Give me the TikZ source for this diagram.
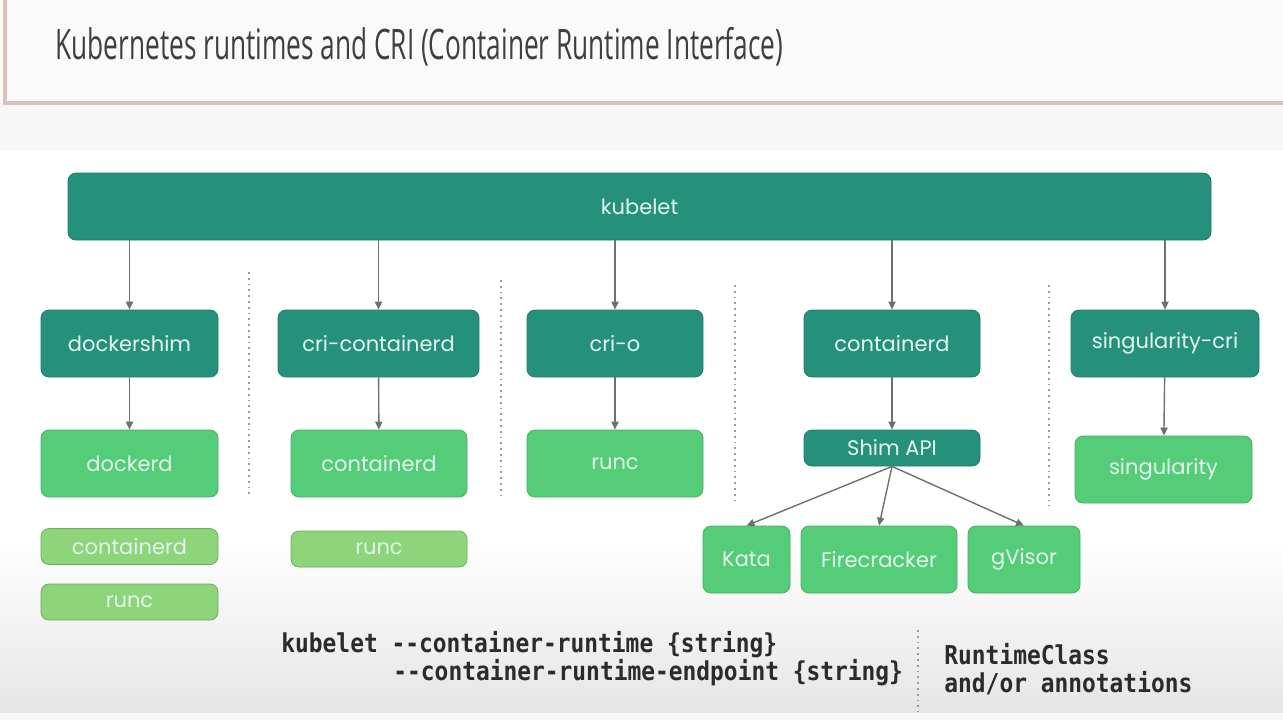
\documentclass[tikz,border=0pt]{standalone}
\usepackage{fontspec}
\setmainfont{Poppins}
\newfontfamily\titlefont[FakeStretch=0.625]{Open Sans}
\newfontfamily\cmdfont[FakeStretch=0.88]{DejaVu Sans Mono}
\usepackage{tikz}
\usetikzlibrary{arrows.meta}
\usepackage{xcolor}
\definecolor{kubeDark}{HTML}{26917A}
\definecolor{kubeGreen}{HTML}{55CC78}
\definecolor{kubePale}{HTML}{8DD47A}
\definecolor{kubeText}{HTML}{E2F6EC}
\definecolor{kubeLine}{HTML}{707070}
\definecolor{kubeFrame}{HTML}{D8C3BE}
\definecolor{kubeTitle}{HTML}{3F3F3F}
\definecolor{kubeCmd}{HTML}{2B2B2B}

\begin{document}
\begin{tikzpicture}[x=0.5pt, y=-0.5pt,
    box/.style={rounded corners=4pt, text=kubeText, inner sep=0pt,
      font=\fontsize{10.5}{13}\selectfont, minimum height=33.5pt},
    crishim/.style={box, fill=kubeDark, draw=kubeDark!85!black},
    runtime/.style={box, fill=kubeGreen, draw=kubeGreen!85!black},
    lowlevel/.style={box, fill=kubePale, draw=kubePale!80!black, minimum height=18pt},
    arr/.style={draw=kubeLine, line width=0.7pt, -{Triangle[length=4pt,width=3.6pt]}},
    sep/.style={draw=kubeLine!70, dotted, line width=0.9pt},
    cmd/.style={font=\cmdfont\bfseries\fontsize{13}{15}\selectfont, text=kubeCmd, anchor=base west, inner sep=0pt}]
  \useasboundingbox (0,0) rectangle (1283,720);
  % Hintergrund
  \fill[white!97!black] (0,0) rectangle (1283,720);
  \fill[white] (0,150) rectangle (1283,712);
  \shade[top color=white, bottom color=white!90!black] (0,540) rectangle (1283,712);
  \fill[white!98!black] (0,0) rectangle (1283,103);
  \draw[kubeFrame, line width=1.6pt] (5,-10) -- (5,103) -- (1295,103);
  \node[anchor=west, font=\titlefont\fontsize{21}{25}\selectfont, text=kubeTitle, inner sep=0pt] (title) at (55,47)
    {Kubernetes runtimes and CRI (Container Runtime Interface)};

  % kubelet
  \node[crishim, minimum width=571.5pt] (kubelet) at (639.5,206.5) {kubelet};

  % CRI Ebene
  \node[crishim, minimum width=88.5pt] (dshim) at (129.5,343.5) {dockershim};
  \node[crishim, minimum width=100.5pt] (cricd) at (378.5,343.5) {cri-containerd};
  \node[crishim, minimum width=88pt] (crio) at (615,343.5) {cri-o};
  \node[crishim, minimum width=88pt] (ctrd) at (892,343.5) {containerd};
  \node[crishim, minimum width=94pt] (singcri) at (1165,343.5) {singularity-cri};

  % Runtimes
  \node[runtime, minimum width=88.5pt] (dockerd) at (129.5,463.5) {dockerd};
  \node[runtime, minimum width=88pt] (cdrun) at (379,463.5) {containerd};
  \node[runtime, minimum width=88pt] (runc) at (615,463.5) {runc};
  \node[crishim, minimum width=88pt, minimum height=18pt] (shim) at (892,448) {Shim API};
  \node[runtime, minimum width=88.5pt] (sing) at (1163.5,469.5) {singularity};
  \node[runtime, minimum width=43.5pt] (kata) at (746.5,559.5) {Kata};
  \node[runtime, minimum width=78pt] (fire) at (879,559.5) {Firecracker};
  \node[runtime, minimum width=56pt] (gvisor) at (1024,559.5) {gVisor};

  % darunter
  \node[lowlevel, minimum width=88.5pt] (dcd) at (129.5,546.5) {containerd};
  \node[lowlevel, minimum width=88.5pt] (drunc) at (129.5,602) {runc};
  \node[lowlevel, minimum width=88pt] (crunc) at (379,549) {runc};

  % Pfeile
  \foreach \n in {dshim, cricd, crio, ctrd, singcri}
    \draw[arr] (kubelet.south -| \n.north) -- (\n.north);
  \draw[arr] (dshim) -- (dockerd);
  \draw[arr] (cricd) -- (cdrun);
  \draw[arr] (crio) -- (runc);
  \draw[arr] (ctrd) -- (shim);
  \draw[arr] (singcri) -- (sing);
  \foreach \n in {kata, fire, gvisor}
    \draw[arr] (shim.south) -- (\n.north);

  % Trennlinien
  \foreach \x/\a/\b in {249/272/497, 501/280/497, 735/285/500, 1049/285/506, 918/630/712}
    \draw[sep] (\x,\a) -- (\x,\b);

  % Aufruf
  \node[cmd] (flag1) at (281,652) {kubelet --container-runtime \{string\}};
  \node[cmd] (flag2) at (393,680) {--container-runtime-endpoint \{string\}};
  \node[cmd] (rclass) at (944,664) {RuntimeClass};
  \node[cmd] (annot) at (944,692) {and/or annotations};
\end{tikzpicture}
\end{document}
